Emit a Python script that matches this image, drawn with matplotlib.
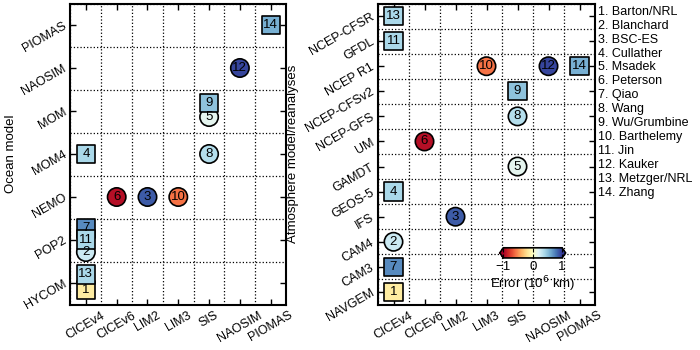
import numpy as np
import matplotlib
matplotlib.use("Agg")
import matplotlib.pyplot as plt

plt.rcParams['font.family'] = ['Liberation Sans', 'DejaVu Sans']

# categories
ice_models = ["CICEv4", "CICEv6", "LIM2", "LIM3", "SIS", "NAOSIM", "PIOMAS"]
ocean_models = ["HYCOM", "POP2", "NEMO", "MOM4", "MOM", "NAOSIM", "PIOMAS"]
atmos_models = ["NAVGEM", "CAM3", "CAM4", "IFS", "GEOS-5", "GAMDT", "UM",
                "NCEP-GFS", "NCEP-CFSv2", "NCEP R1", "GFDL", "NCEP-CFSR"]
groups = ["Barton/NRL", "Blanchard", "BSC-ES", "Cullather", "Msadek", "Peterson",
          "Qiao", "Wang", "Wu/Grumbine", "Barthelemy", "Jin", "Kauker",
          "Metzger/NRL", "Zhang"]

# one entry per contribution 1..14
sub_ice = ["CICEv4", "CICEv4", "LIM2", "CICEv4", "SIS", "CICEv6", "CICEv4",
           "SIS", "SIS", "LIM3", "CICEv4", "NAOSIM", "CICEv4", "PIOMAS"]
sub_ocean = ["HYCOM", "POP2", "NEMO", "MOM4", "MOM", "NEMO", "POP2",
             "MOM4", "MOM", "NEMO", "POP2", "NAOSIM", "HYCOM", "PIOMAS"]
sub_atmos = ["NAVGEM", "CAM4", "IFS", "GEOS-5", "GAMDT", "UM", "CAM3",
             "NCEP-GFS", "NCEP-CFSv2", "NCEP R1", "GFDL", "NCEP R1", "NCEP-CFSR", "NCEP R1"]
ocean_offset = [-0.17, -0.28, 0, 0, -0.14, 0, 0.27, 0, 0.19, 0, 0.01, 0, 0.2, 0]
errors = [-0.12, 0.28, 0.88, 0.4, 0.17, -0.93, 0.72, 0.36, 0.5, -0.58, 0.4, 0.95, 0.4, 0.58]
is_square = [True, False, False, True, False, False, True, False, True, False,
             True, False, True, True]

ids = np.arange(1, 15)
xi = np.array([ice_models.index(m) for m in sub_ice])
yo = np.array([ocean_models.index(m) for m in sub_ocean]) + np.array(ocean_offset)
ya = np.array([atmos_models.index(m) for m in sub_atmos])
err = np.array(errors)
sq = np.array(is_square)

fig = plt.figure(figsize=(7, 3.5), dpi=100)
ax1 = fig.add_axes([0.1007, 0.13, 0.308, 0.86])
ax2 = fig.add_axes([0.540, 0.13, 0.310, 0.86])

cmap = plt.get_cmap('RdYlBu')
sc = None
for ax, yv, ylabels, ylab, lx in [(ax1, yo, ocean_models, "Ocean model", -0.248),
                                  (ax2, ya, atmos_models, "Atmosphere model/reanalyses", -0.362)]:
    for mk, sel in [('o', ~sq), ('s', sq)]:
        sc = ax.scatter(xi[sel], yv[sel], c=err[sel], cmap=cmap, vmin=-1, vmax=1,
                        marker=mk, s=175, edgecolors='k', linewidths=1.2, zorder=3)
        for i, x, y in zip(ids[sel], xi[sel], yv[sel]):
            ax.text(x, y, str(i), ha='center', va='center', fontsize=9.5, zorder=4)
    n = len(ylabels)
    ax.set_xlim(-0.5, len(ice_models) - 0.5)
    ax.set_ylim(-0.5, n - 0.5)
    ax.set_xticks(range(len(ice_models)))
    ax.set_xticklabels(ice_models, rotation=30, ha='center', fontsize=9)
    ax.set_yticks(range(n))
    ax.set_yticklabels(ylabels, rotation=30, ha='right', va='center',
                       rotation_mode='anchor', fontsize=9)
    ax.set_xticks(np.arange(-0.5, len(ice_models)), minor=True)
    ax.set_yticks(np.arange(-0.5, n), minor=True)
    ax.grid(which='minor', color='k', linestyle=':', linewidth=0.9)
    ax.tick_params(which='major', direction='in', top=True, right=True, length=4, width=1)
    ax.tick_params(which='minor', length=0)
    ax.set_ylabel(ylab, fontsize=9.5)
    ax.yaxis.set_label_coords(lx, 0.5)
    for s in ax.spines.values():
        s.set_linewidth(1.5)
    ax.set_axisbelow(True)

# colorbar inside right panel
cax = fig.add_axes([0.714, 0.263, 0.094, 0.029])
cb = fig.colorbar(sc, cax=cax, orientation='horizontal', extend='both',
                  ticks=[-1, 0, 1], extendfrac=0.06)
cb.outline.set_linewidth(1.2)
cax.tick_params(direction='in', top=True, length=3, labelsize=9.5, pad=2)
cb.set_label("Error (10$^6$ km)", fontsize=9.5, labelpad=1)

# numbered list of groups
for k, g in enumerate(groups):
    fig.text(0.854, 0.966 - k * 0.0397, "%d. %s" % (k + 1, g),
             ha='left', va='center', fontsize=9)

fig.savefig("out.png", dpi=100)
